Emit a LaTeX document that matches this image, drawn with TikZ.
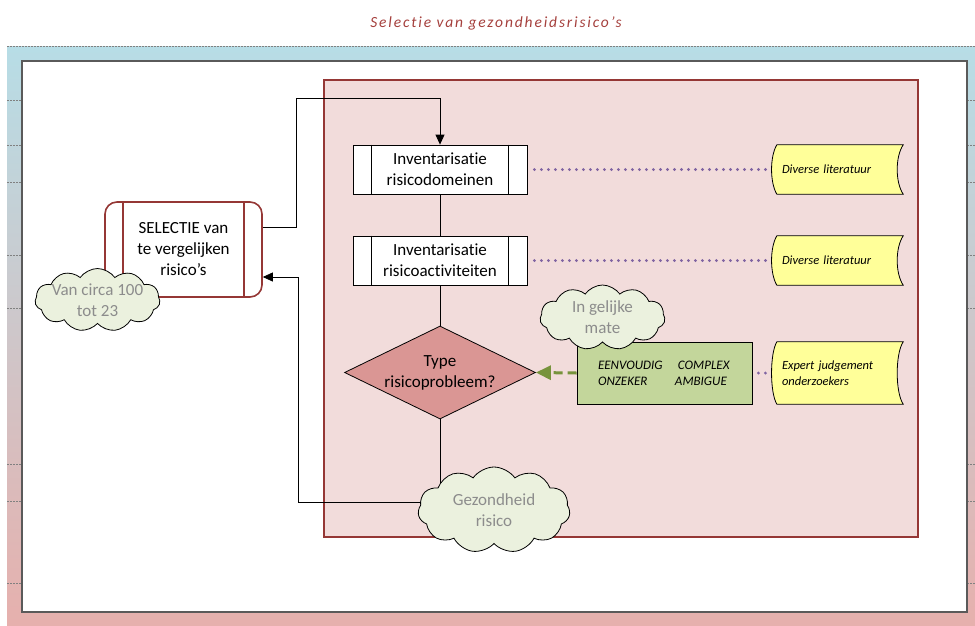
\documentclass[tikz,border=0pt]{standalone}
\usepackage{fontspec}
\setmainfont{Carlito}[Ligatures=NoCommon]
\newfontfamily\titlefont[LetterSpace=12,Ligatures=NoCommon]{Carlito}
\usetikzlibrary{shapes.geometric,shapes.symbols,arrows.meta}
\pgfdeclarelayer{bg}
\pgfdeclarelayer{lines}
\pgfsetlayers{bg,lines,main}

\definecolor{darkred}{HTML}{953735}
\definecolor{pinkfill}{HTML}{F2DCDB}
\definecolor{diafill}{HTML}{DA9694}
\definecolor{cloudfill}{HTML}{EBF1DE}
\definecolor{greenfill}{HTML}{C3D69B}
\definecolor{greenline}{HTML}{77933C}
\definecolor{yellowfill}{HTML}{FFFF99}
\definecolor{purpledot}{HTML}{8064A2}
\definecolor{bandtop}{HTML}{B7DDE6}
\definecolor{bandbottom}{HTML}{E6B0AD}
\definecolor{titlered}{HTML}{A5403D}
\definecolor{cloudtext}{HTML}{8C8C8C}
\definecolor{frame}{HTML}{5A5A5A}

\begin{document}
\begin{tikzpicture}[x=1pt,y=-1pt,
  bigtext/.style={font=\fontsize{17}{21}\selectfont},
  procbox/.style={draw=black, line width=0.8pt, fill=white, minimum width=174pt,
    minimum height=49pt, inner sep=0pt, align=center, bigtext},
  conn/.style={draw=black, line width=0.8pt},
  tip/.style={-{Triangle[length=10pt,width=9pt]}},
  cloudshape/.style={cloud, cloud puffs=11, cloud puff arc=110, cloud ignores aspect,
    draw=black, line width=0.8pt, fill=cloudfill, inner sep=0pt},
  cloudlabel/.style={align=center, text=cloudtext, bigtext},
  datanode/.style={minimum width=131pt, minimum height=49pt, inner ysep=0pt,
    inner xsep=10pt, text width=111pt, align=left,
    font=\fontsize{12.5}{16}\selectfont\itshape},
  datashape/.style={draw=black, line width=0.8pt, fill=yellowfill},
  dotline/.style={draw=purpledot, line width=3.2pt, line cap=round,
    dash pattern=on 0pt off 7pt},
  greenarrow/.style={draw=greenline, line width=3pt, dash pattern=on 9pt off 5pt,
    -{Triangle[length=15pt,width=14pt,fill=greenline]}},
  tick/.style={draw=gray, line width=0.6pt, dash pattern=on 2pt off 1pt}
]
\useasboundingbox (0,0) rectangle (975,625);

% ---------- background ----------
\begin{pgfonlayer}{bg}
  \shade[top color=bandtop, bottom color=bandbottom] (7,46) rectangle (975,625);
  \draw[tick] (7,46) -- (975,46);
  \foreach \yy in {100,145,182,255,308,464,501,583}{
    \draw[tick] (7,\yy) -- (22,\yy);
    \draw[tick] (967,\yy) -- (975,\yy);
  }
  \draw[draw=frame, line width=1.5pt, fill=white] (22,61) rectangle (967,612);
  \draw[draw=darkred, line width=2pt, fill=pinkfill] (324,80) rectangle (918,537);
\end{pgfonlayer}

% ---------- title ----------
\node[text=titlered, font=\titlefont\itshape\fontsize{15.5}{18}\selectfont] (title) at (496,23)
  {Selectie van gezondheidsrisico’s};

% ---------- nodes ----------
\node[draw=darkred, line width=1.6pt, fill=white, rounded corners=12pt,
  minimum width=157pt, minimum height=95pt, inner sep=0pt, align=center, bigtext]
  (selbox) at (183.5,249.5) {SELECTIE van\\te vergelijken\\risico’s};
\draw[draw=darkred, line width=1.6pt] ([xshift=19pt]selbox.north west) -- ([xshift=19pt]selbox.south west);
\draw[draw=darkred, line width=1.6pt] ([xshift=-19pt]selbox.north east) -- ([xshift=-19pt]selbox.south east);

\node[procbox] (inv1) at (440,169.5) {Inventarisatie\\risicodomeinen};
\node[procbox] (inv2) at (440,260.5) {Inventarisatie\\risicoactiviteiten};
\foreach \n in {inv1,inv2}{
  \draw[line width=0.8pt] ([xshift=19pt]\n.north west) -- ([xshift=19pt]\n.south west);
  \draw[line width=0.8pt] ([xshift=-19pt]\n.north east) -- ([xshift=-19pt]\n.south east);
}

\node[diamond, draw=black, line width=0.8pt, fill=diafill, minimum width=191pt,
  minimum height=93pt, inner sep=0pt,
  label={[align=center, bigtext]center:Type\\risicoprobleem?}] (dia) at (440,372.5) {};

\node[draw=black, line width=0.8pt, fill=greenfill, minimum width=175pt, minimum height=62pt,
  inner xsep=21pt, inner ysep=0pt, text width=133pt, align=left,
  font=\fontsize{13}{16}\selectfont\itshape] (gbox) at (664.5,373)
  {\makebox[80pt][l]{EENVOUDIG}COMPLEX\\\makebox[77pt][l]{ONZEKER}AMBIGUE};

\node[datanode] (lit1) at (837.5,169.5) {Diverse literatuur};
\node[datanode] (lit2) at (837.5,260.5) {Diverse literatuur};
\node[datanode, minimum height=62pt] (expert) at (837.5,373) {Expert judgement\\onderzoekers};

\node[cloudshape, minimum width=125pt, minimum height=63pt,
  label={[cloudlabel]center:Van circa 100\\tot 23}] (vcloud) at (97.5,300) {};
\node[cloudshape, minimum width=125pt, minimum height=65pt,
  label={[cloudlabel]center:In gelijke\\mate}] (icloud) at (602.5,317.5) {};
\node[cloudshape, minimum width=152pt, minimum height=86pt,
  label={[cloudlabel]center:Gezondheid\\risico}] (gcloud) at (494,510) {};

% ---------- connectors ----------
\coordinate (selout) at (262,227);
\coordinate (toprun) at (296,98);
\coordinate (retcorner) at (298,277);
\coordinate (retstart) at (494,502);

\begin{pgfonlayer}{lines}
  \foreach \n in {lit1,lit2,expert}{
    \draw[datashape] ([xshift=5pt]\n.north west) -- (\n.north east)
      .. controls +(-8,12) and +(-8,-12) .. (\n.south east)
      -- ([xshift=5pt]\n.south west)
      .. controls +(-7,-12) and +(-7,12) .. ([xshift=5pt]\n.north west) -- cycle;
  }
  \draw[conn, tip] (selout) -| (toprun) -| (inv1.north);
  \draw[conn] (inv1.south) -- (inv2.north);
  \draw[conn] (inv2.south) -- (dia.north);
  \draw[conn] (dia.south) -- (dia.south |- gcloud.center);
  \draw[conn, tip] (retstart) -| (retcorner) -- (retcorner -| selbox.east);
  \draw[dotline] ([xshift=7pt]inv1.east) -- (lit1.west);
  \draw[dotline] ([xshift=7pt]inv2.east) -- (lit2.west);
  \draw[dotline] ([xshift=6pt]gbox.east) -- (expert.west);
  \draw[greenarrow] (gbox.west) -- (dia.east);
\end{pgfonlayer}
\end{tikzpicture}
\end{document}
